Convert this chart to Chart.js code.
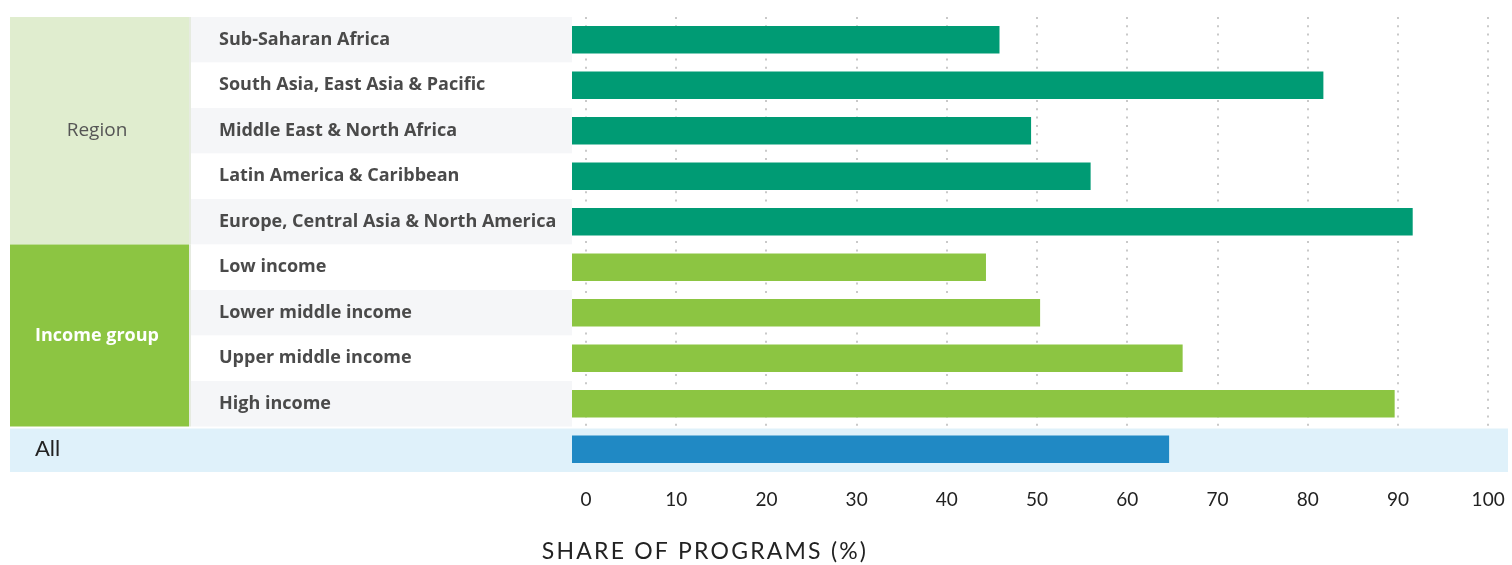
<!DOCTYPE html>
<html>
<head>
<meta charset="utf-8">
<script src="https://cdn.jsdelivr.net/npm/chart.js@4/dist/chart.umd.min.js"></script>
<style>
  body { margin: 0; background: #fff; }
  #wrap { width: 1512px; height: 565px; }
</style>
</head>
<body>
<div id="wrap"><canvas id="chart" width="1512" height="565"></canvas></div>
<script>
// Categories, group of each row, and the share
const categories = [
  "Sub-Saharan Africa",
  "South Asia, East Asia & Pacific",
  "Middle East & North Africa",
  "Latin America & Caribbean",
  "Europe, Central Asia & North America",
  "Low income",
  "Lower middle income",
  "Upper middle income",
  "High income",
  "All"
];
const groups = [
  "Region", "Region", "Region", "Region", "Region",
  "Income group", "Income group", "Income group", "Income group",
  "All"
];
const shares = [45.8, 81.7, 49.3, 55.9, 91.6, 44.3, 50.3, 66.1, 89.6, 64.6];
const tickValues = [0, 10, 20, 30, 40, 50, 60, 70, 80, 90, 100];
const axisTitle = "SHARE OF PROGRAMS (%)";

const barColors = { "Region": "#009b74", "Income group": "#8cc542", "All": "#2089c4" };
const panelColors = { "Region": "#e0edcf", "Income group": "#8cc542" };
const panelText = { "Region": "#555555", "Income group": "#ffffff" };
const panelFont = { "Region": "19px 'Open Sans'", "Income group": "bold 18px 'Open Sans'" };

const rowBounds = (chart, i) => {
  const y = chart.scales.y;
  const half = (y.getPixelForValue(1) - y.getPixelForValue(0)) / 2;
  const mid = y.getPixelForValue(i);
  return { top: mid - half, bottom: mid + half, mid };
};

// Left label panel, drawn under the grid
const panelPlugin = {
  id: "panelPlugin",
  beforeDraw(chart) {
    const { ctx, chartArea } = chart;
    ctx.save();
    categories.forEach((cat, i) => {
      if (groups[i] === "All") return;
      const r = rowBounds(chart, i);
      ctx.fillStyle = i % 2 === 0 ? "#f5f6f8" : "#ffffff";
      ctx.fillRect(191, r.top, chartArea.left - 191, r.bottom - r.top);
      ctx.fillStyle = "#4a4a4a";
      ctx.font = "bold 18px 'Open Sans'";
      ctx.textBaseline = "middle";
      ctx.textAlign = "left";
      ctx.fillText(cat, 219, r.mid);
    });

    ["Region", "Income group"].forEach(g => {
      const first = groups.indexOf(g);
      const last = groups.lastIndexOf(g);
      const top = rowBounds(chart, first).top;
      const bottom = rowBounds(chart, last).bottom;
      ctx.fillStyle = panelColors[g];
      ctx.fillRect(10, top, 179, bottom - top);
      ctx.fillStyle = "#e6ebe0";
      ctx.fillRect(189, top, 2, bottom - top);
      ctx.fillStyle = panelText[g];
      ctx.font = panelFont[g];
      ctx.textAlign = "center";
      ctx.textBaseline = "middle";
      ctx.fillText(g, 97, (top + bottom) / 2);
    });
    ctx.restore();
  },
  // "All" band sits over the dotted grid
  beforeDatasetsDraw(chart) {
    const { ctx } = chart;
    const i = groups.indexOf("All");
    const r = rowBounds(chart, i);
    ctx.save();
    ctx.fillStyle = "#dff1fa";
    ctx.fillRect(10, r.top + 2, 1498, r.bottom - r.top - 2);
    ctx.fillStyle = "#222222";
    ctx.font = "22px Lato";
    ctx.textAlign = "left";
    ctx.textBaseline = "middle";
    ctx.fillText(categories[i], 35, r.mid);
    ctx.restore();
  },
  afterDraw(chart) {
    const { ctx } = chart;
    ctx.save();
    ctx.fillStyle = "#222222";
    ctx.font = "23px Lato";
    ctx.letterSpacing = "2.2px";
    ctx.textAlign = "center";
    ctx.textBaseline = "middle";
    ctx.fillText(axisTitle, 705, 552);
    ctx.restore();
  }
};

new Chart(document.getElementById("chart").getContext("2d"), {
  type: "bar",
  data: {
    labels: categories,
    datasets: [{
      data: shares,
      base: -1.55,
      backgroundColor: groups.map(g => barColors[g]),
      borderWidth: 0,
      barThickness: 27
    }]
  },
  options: {
    indexAxis: "y",
    responsive: false,
    animation: false,
    devicePixelRatio: 1,
    layout: { padding: { left: 572, right: 4, top: 17, bottom: 0 } },
    plugins: { legend: { display: false }, tooltip: { enabled: false } },
    scales: {
      y: { type: "category", display: false },
      x: {
        min: -1.55,
        max: 102.2,
        afterBuildTicks: scale => { scale.ticks = tickValues.map(v => ({ value: v })); },
        afterFit: scale => {
          scale.height = 93;
          scale.paddingRight = 0;
          scale.paddingLeft = 0;
        },
        grid: { color: "#c9c9c9", lineWidth: 2, drawTicks: false },
        border: { display: false, dash: [2, 6.3] },
        ticks: {
          padding: 16,
          color: "#222222",
          font: { family: "Lato", size: 19 },
          maxRotation: 0,
          callback: v => v
        }
      }
    }
  },
  plugins: [panelPlugin]
});
</script>
</body>
</html>
